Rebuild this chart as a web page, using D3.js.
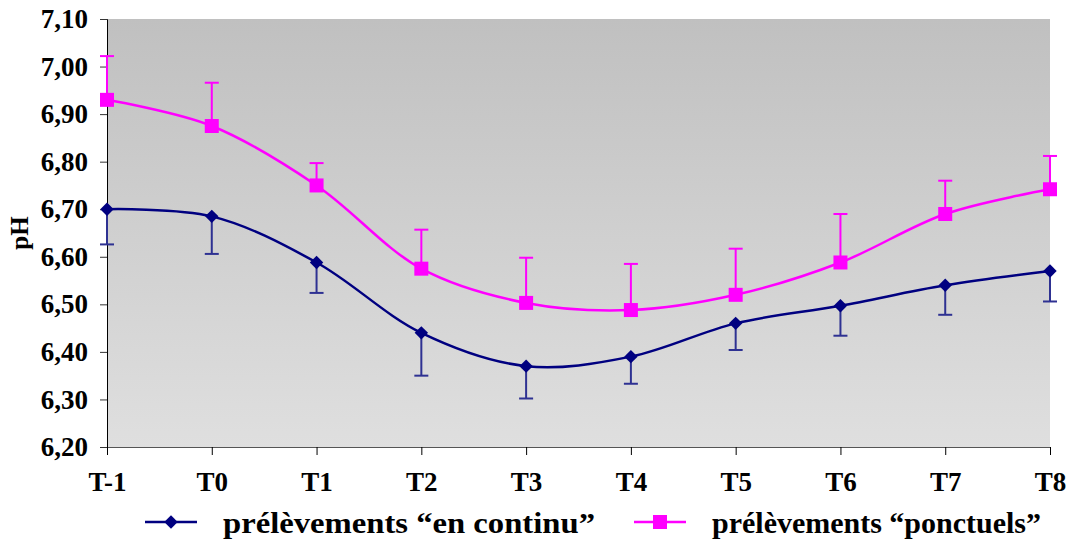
<!DOCTYPE html>
<html>
<head>
<meta charset="utf-8">
<script src="https://cdn.jsdelivr.net/npm/d3@7"></script>
<style>
  body { margin: 0; background: #fff; }
  svg { display: block; font-family: "Liberation Serif", "Times New Roman", serif; font-weight: bold; }
</style>
</head>
<body>
<div id="chart"></div>
<script>
const categories = ["T-1", "T0", "T1", "T2", "T3", "T4", "T5", "T6", "T7", "T8"];
const continuValues = [6.70, 6.685, 6.588, 6.44, 6.37, 6.39, 6.46, 6.497, 6.54, 6.57];
const continuLower = [6.626, 6.606, 6.524, 6.35, 6.302, 6.333, 6.404, 6.434, 6.478, 6.506];
const ponctuelValues = [6.93, 6.875, 6.75, 6.575, 6.503, 6.488, 6.52, 6.588, 6.69, 6.742];
const ponctuelUpper = [7.022, 6.966, 6.797, 6.657, 6.598, 6.585, 6.617, 6.69, 6.76, 6.812];
const yTicks = [6.20, 6.30, 6.40, 6.50, 6.60, 6.70, 6.80, 6.90, 7.00, 7.10];

const width = 1071, height = 539;
const margin = {top: 19, right: 21, bottom: 92, left: 107};

const svg = d3.select("#chart").append("svg")
    .attr("width", width)
    .attr("height", height);

const x = d3.scalePoint()
    .domain(categories)
    .range([margin.left, width - margin.right]);

const y = d3.scaleLinear()
    .domain([6.20, 7.10])
    .range([height - margin.bottom, margin.top]);

// plot background gradient
const grad = svg.append("defs").append("linearGradient")
    .attr("id", "bg")
    .attr("x1", 0).attr("y1", 0).attr("x2", 0).attr("y2", 1);
grad.append("stop").attr("offset", "0%").attr("stop-color", "#c0c0c0");
grad.append("stop").attr("offset", "100%").attr("stop-color", "#dfdfdf");

svg.append("rect")
    .attr("x", margin.left)
    .attr("y", margin.top)
    .attr("width", width - margin.left - margin.right)
    .attr("height", height - margin.top - margin.bottom)
    .attr("fill", "url(#bg)");

const fmt = d => d.toFixed(2).replace(".", ",");

// y axis
const yAxis = svg.append("g")
    .attr("transform", `translate(${margin.left},0)`)
    .call(d3.axisLeft(y).tickValues(yTicks).tickFormat(fmt).tickSizeOuter(0).tickSize(7).tickPadding(12));
yAxis.select(".domain").attr("stroke", "#000");
yAxis.selectAll(".tick line").attr("stroke", "#333");
yAxis.selectAll("text")
    .attr("font-size", 27)
    .attr("font-family", "Liberation Serif, serif")
    .attr("font-weight", "bold")
    .attr("fill", "#000");

// x axis
const xAxis = svg.append("g")
    .attr("transform", `translate(0,${height - margin.bottom})`)
    .call(d3.axisBottom(x).tickSizeOuter(0).tickSize(8).tickPadding(17));
xAxis.select(".domain").attr("stroke", "#555");
xAxis.selectAll(".tick line").attr("stroke", "#000");
xAxis.selectAll("text")
    .attr("font-size", 27)
    .attr("font-family", "Liberation Serif, serif")
    .attr("font-weight", "bold")
    .attr("fill", "#000");

// y label
svg.append("text")
    .attr("transform", `translate(28,${(margin.top + height - margin.bottom) / 2}) rotate(-90)`)
    .attr("text-anchor", "middle")
    .attr("font-size", 25)
    .text("pH");

const line = d3.line()
    .x((d, i) => x(categories[i]))
    .y(d => y(d))
    .curve(d3.curveCatmullRom.alpha(0.5));

// error bars
const capW = 7;
function errorBars(values, ends, color) {
    const g = svg.append("g").attr("stroke", color).attr("stroke-width", 2);
    values.forEach((v, i) => {
        const cx = x(categories[i]);
        g.append("line").attr("x1", cx).attr("x2", cx).attr("y1", y(v)).attr("y2", y(ends[i]));
        g.append("line").attr("x1", cx - capW).attr("x2", cx + capW).attr("y1", y(ends[i])).attr("y2", y(ends[i]));
    });
}
errorBars(continuValues, continuLower, "#2e3192");
errorBars(ponctuelValues, ponctuelUpper, "#ff00ff");

// lines
svg.append("path").datum(continuValues)
    .attr("fill", "none").attr("stroke", "#000080").attr("stroke-width", 2.5)
    .attr("d", line);
svg.append("path").datum(ponctuelValues)
    .attr("fill", "none").attr("stroke", "#ff00ff").attr("stroke-width", 2.5)
    .attr("d", line);

// markers
const diamond = d3.symbol().type(d3.symbolSquare).size(90);
svg.append("g").selectAll("path")
    .data(continuValues)
    .join("path")
    .attr("d", diamond)
    .attr("fill", "#000080")
    .attr("transform", (d, i) => `translate(${x(categories[i])},${y(d)}) rotate(45)`);

svg.append("g").selectAll("rect")
    .data(ponctuelValues)
    .join("rect")
    .attr("x", (d, i) => x(categories[i]) - 7)
    .attr("y", d => y(d) - 7)
    .attr("width", 14).attr("height", 14)
    .attr("fill", "#ff00ff");

// legend
const legY = 522;
const leg1 = svg.append("g");
leg1.append("line").attr("x1", 145).attr("x2", 197).attr("y1", legY).attr("y2", legY)
    .attr("stroke", "#000080").attr("stroke-width", 2.5);
leg1.append("path").attr("d", diamond).attr("fill", "#000080")
    .attr("transform", `translate(171,${legY}) rotate(45)`);
leg1.append("text").attr("x", 223).attr("y", 533).attr("font-size", 30)
    .attr("textLength", 372).attr("lengthAdjust", "spacingAndGlyphs")
    .text("prélèvements “en continu”");

const leg2 = svg.append("g");
leg2.append("line").attr("x1", 634).attr("x2", 686).attr("y1", legY).attr("y2", legY)
    .attr("stroke", "#ff00ff").attr("stroke-width", 2.5);
leg2.append("rect").attr("x", 653).attr("y", legY - 7).attr("width", 14).attr("height", 14)
    .attr("fill", "#ff00ff");
leg2.append("text").attr("x", 712).attr("y", 533).attr("font-size", 30)
    .attr("textLength", 329).attr("lengthAdjust", "spacingAndGlyphs")
    .text("prélèvements “ponctuels”");
</script>
</body>
</html>
